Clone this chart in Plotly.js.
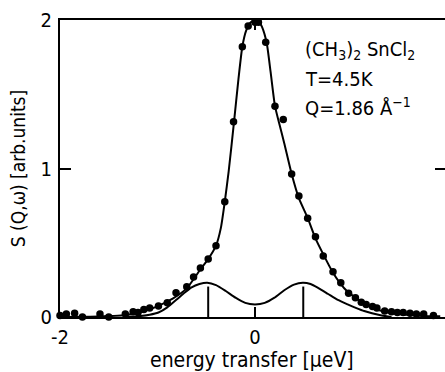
<!DOCTYPE html>
<html>
<head>
<meta charset="utf-8">
<script src="https://cdn.plot.ly/plotly-3.0.1.min.js"></script>
<style>
html,body{margin:0;padding:0;overflow:hidden;background:#fff;}
#chart{width:446px;height:372px;}
</style>
</head>
<body>
<div id="chart"></div>
<script>
// measured points
const energy = [-2.00,-1.935,-1.85,-1.77,-1.69,-1.59,-1.50,-1.33,-1.25,-1.20,-1.14,-1.08,-0.99,-0.90,-0.81,-0.70,-0.63,-0.56,-0.48,-0.40,-0.31,-0.22,-0.13,-0.07,0.00,0.035,0.11,0.205,0.29,0.376,0.45,0.54,0.62,0.70,0.80,0.88,0.96,1.03,1.09,1.14,1.205,1.25,1.33,1.40,1.46,1.52,1.59,1.655,1.73,1.83];
const intensity = [0.01,0.02,0.025,0.0,-0.005,0.02,0.0,0.02,0.035,0.03,0.05,0.06,0.074,0.096,0.164,0.204,0.27,0.33,0.39,0.48,0.776,1.315,1.82,1.96,1.985,1.985,1.85,1.42,1.33,0.963,0.815,0.665,0.54,0.41,0.305,0.23,0.16,0.13,0.10,0.085,0.07,0.06,0.04,0.036,0.03,0.03,0.025,0.02,0.02,0.01];

// total fit curve
const fitX = [-2.0,-1.69,-1.5,-1.35,-1.18,-1.01,-0.84,-0.70,-0.55,-0.48,-0.40,-0.35,-0.31,-0.27,-0.215,-0.17,-0.13,-0.09,-0.05,0.0,0.04,0.072,0.12,0.16,0.205,0.25,0.30,0.376,0.45,0.54,0.62,0.71,0.79,0.87,0.95,1.04,1.12,1.21,1.30,1.38,1.47,1.56,1.72,1.90];
const fitY = [0.0,0.002,0.006,0.012,0.03,0.07,0.126,0.193,0.33,0.39,0.48,0.60,0.776,0.98,1.315,1.60,1.82,1.93,1.98,2.0,1.99,1.953,1.845,1.65,1.42,1.30,1.17,0.963,0.80,0.667,0.53,0.41,0.31,0.23,0.17,0.126,0.09,0.06,0.04,0.029,0.02,0.015,0.007,0.005];

// tunnelling contribution curve
const lowX = [-1.35,-1.2,-1.08,-0.99,-0.9,-0.8,-0.72,-0.65,-0.57,-0.49,-0.40,-0.30,-0.20,-0.10,0.0,0.10,0.20,0.30,0.40,0.49,0.57,0.65,0.75,0.85,0.95,1.04,1.12,1.20,1.30,1.40];
const lowY = [0.0,0.005,0.015,0.03,0.065,0.12,0.165,0.2,0.222,0.231,0.215,0.175,0.13,0.095,0.085,0.095,0.13,0.18,0.218,0.231,0.222,0.195,0.155,0.115,0.085,0.06,0.04,0.025,0.01,0.0];

// tunnelling line positions and heights
const stickX = [-0.48, 0.495];
const stickH = [0.205, 0.205];

const xTicks = [-2, 0, 2];
const xTickText = ['-2', '0', '2'];
const yTicks = [0, 1, 2];

const sx = [], sy = [];
stickX.forEach((x, i) => { sx.push(x, x, null); sy.push(0, stickH[i], null); });

const FONT = '"DejaVu Sans Condensed", "Liberation Sans Narrow", "DejaVu Sans", sans-serif';

const traces = [
  {x: fitX, y: fitY, mode: 'lines', line: {color: '#000', width: 2, shape: 'spline', smoothing: 0.6}, hoverinfo: 'skip'},
  {x: lowX, y: lowY, mode: 'lines', line: {color: '#000', width: 2, shape: 'spline', smoothing: 0.6}, hoverinfo: 'skip'},
  {x: sx, y: sy, mode: 'lines', line: {color: '#000', width: 2}, hoverinfo: 'skip'},
  {x: energy, y: intensity, mode: 'markers', marker: {color: '#000', size: 7.5}, cliponaxis: false}
];

const layout = {
  width: 446, height: 372,
  margin: {l: 60, r: 0, t: 20, b: 55},
  paper_bgcolor: '#fff', plot_bgcolor: '#fff',
  showlegend: false,
  font: {family: FONT, size: 20, color: '#000'},
  xaxis: {
    range: [-2, 1.959], tickvals: xTicks, ticktext: xTickText,
    ticks: 'inside', ticklen: 10, tickwidth: 2, tickcolor: '#000',
    showline: true, linecolor: '#000', linewidth: 2, mirror: 'ticks',
    showgrid: false, zeroline: false, ticklabelstandoff: 1,
    tickfont: {family: FONT, size: 20}
  },
  yaxis: {
    range: [0, 2], tickvals: yTicks,
    ticks: 'inside', ticklen: 11, tickwidth: 2, tickcolor: '#000',
    showline: true, linecolor: '#000', linewidth: 2, mirror: 'ticks',
    showgrid: false, zeroline: false, ticklabelstandoff: 2,
    tickfont: {family: FONT, size: 20},
    title: {text: 'S (Q,\u03c9) [arb.units]', font: {family: FONT, size: 19}, standoff: 10}
  },
  annotations: [
    {xref: 'paper', yref: 'paper', x: 0.498, y: -0.146, xanchor: 'center', yanchor: 'middle', showarrow: false,
     text: 'energy transfer [\u00b5eV]', font: {family: FONT, size: 21}},
    {xref: 'paper', yref: 'paper', x: 0.630, y: 0.900, xanchor: 'left', yanchor: 'middle', showarrow: false,
     text: '(CH<sub>3</sub>)<sub>2</sub> SnCl<sub>2</sub>', font: {family: FONT, size: 20}},
    {xref: 'paper', yref: 'paper', x: 0.630, y: 0.800, xanchor: 'left', yanchor: 'middle', showarrow: false,
     text: 'T=4.5K', font: {family: FONT, size: 20}},
    {xref: 'paper', yref: 'paper', x: 0.630, y: 0.707, xanchor: 'left', yanchor: 'middle', showarrow: false,
     text: 'Q=1.86 \u00c5<sup>\u22121</sup>', font: {family: FONT, size: 20}}
  ]
};

Plotly.newPlot('chart', traces, layout, {staticPlot: true, displayModeBar: false});
</script>
</body>
</html>
